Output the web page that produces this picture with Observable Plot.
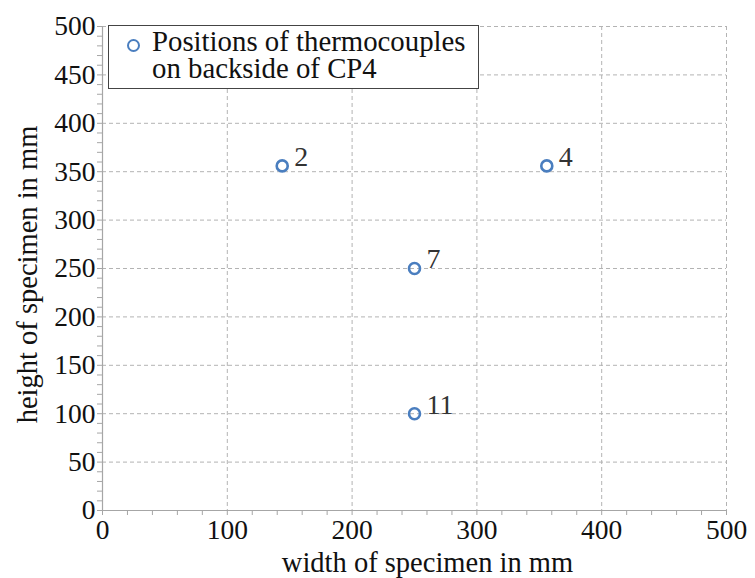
<!DOCTYPE html>
<html>
<head>
<meta charset="utf-8">
<script src="https://cdn.jsdelivr.net/npm/d3@7"></script>
<script src="https://cdn.jsdelivr.net/npm/@observablehq/plot@0.6"></script>
<style>
  html, body { margin: 0; padding: 0; background: #fff; }
  #wrap { position: relative; width: 755px; height: 578px; font-family: "Liberation Serif", "Times New Roman", serif; }
  #legend { position: absolute; left: 108px; top: 25px; width: 369px; height: 62px; border: 1px solid #444; background: #fff; box-sizing: content-box; }
  #legend .mk { position: absolute; left: 18px; top: 13px; width: 9px; height: 9px; border: 2.5px solid #4a7ebf; border-radius: 50%; }
  #legend .tx { position: absolute; left: 43px; top: 2px; font-size: 28.8px; line-height: 27px; color: #111; white-space: nowrap; }
</style>
</head>
<body>
<div id="wrap"></div>
<script>
const sensorIds = ["2", "4", "7", "11"];
const widthMm = [144, 356, 250, 250];
const heightMm = [356, 356, 250, 100];
const xTickValues = [0, 100, 200, 300, 400, 500];
const yTickValues = [0, 50, 100, 150, 200, 250, 300, 350, 400, 450, 500];
const xLabel = "width of specimen in mm";
const yLabel = "height of specimen in mm";
const legendLines = ["Positions of thermocouples", "on backside of CP4"];

const points = sensorIds.map((id, i) => ({id, x: widthMm[i], y: heightMm[i]}));

const gridColor = "#b3b3b3";
const axisColor = "#a6a6a6";

const chart = Plot.plot({
  width: 755,
  height: 578,
  marginLeft: 102,
  marginRight: 29,
  marginTop: 26,
  marginBottom: 68,
  style: {fontFamily: "Liberation Serif, Times New Roman, serif", background: "transparent", color: "#111"},
  x: {domain: [0, 500]},
  y: {domain: [0, 500]},
  marks: [
    Plot.gridX(xTickValues.filter(d => d > 0), {stroke: gridColor, strokeOpacity: 1, strokeDasharray: "4,3"}),
    Plot.gridY(yTickValues.filter(d => d > 0), {stroke: gridColor, strokeOpacity: 1, strokeDasharray: "4,3"}),
    Plot.ruleY([0], {stroke: axisColor, strokeWidth: 1.2}),
    Plot.ruleX([0], {stroke: axisColor, strokeWidth: 1.2}),
    Plot.axisX(d3.range(0, 501, 20), {
      anchor: "bottom", tickSize: 5, tickPadding: 4, stroke: axisColor, color: "#111",
      fontSize: 27.5, tickFormat: d => (xTickValues.includes(d) ? String(d) : ""), label: null
    }),
    Plot.axisY(d3.range(0, 501, 10), {
      anchor: "left", tickSize: 5, tickPadding: 2, stroke: axisColor, color: "#111",
      fontSize: 27.5, tickFormat: d => (yTickValues.includes(d) ? String(d) : ""), label: null
    }),
    Plot.text([xLabel], {frameAnchor: "bottom", textAnchor: "middle", dx: 13, dy: 52, fontSize: 28.5, fill: "#111", lineAnchor: "middle"}),
    Plot.text([yLabel], {frameAnchor: "left", textAnchor: "middle", dx: -75, dy: 6, rotate: -90, fontSize: 28.5, fill: "#111", lineAnchor: "middle"}),
    Plot.dot(points, {x: "x", y: "y", r: 5.5, stroke: "#4a7ebf", strokeWidth: 2.6, fill: "none"}),
    Plot.text(points, {x: "x", y: "y", text: "id", dx: 12, dy: -9, textAnchor: "start", lineAnchor: "middle", fontSize: 28, fill: "#333"})
  ]
});

const wrap = document.getElementById("wrap");
wrap.appendChild(chart);
const legend = document.createElement("div");
legend.id = "legend";
legend.innerHTML = '<div class="mk"></div><div class="tx">' + legendLines.join("<br>") + '</div>';
wrap.appendChild(legend);
</script>
</body>
</html>
